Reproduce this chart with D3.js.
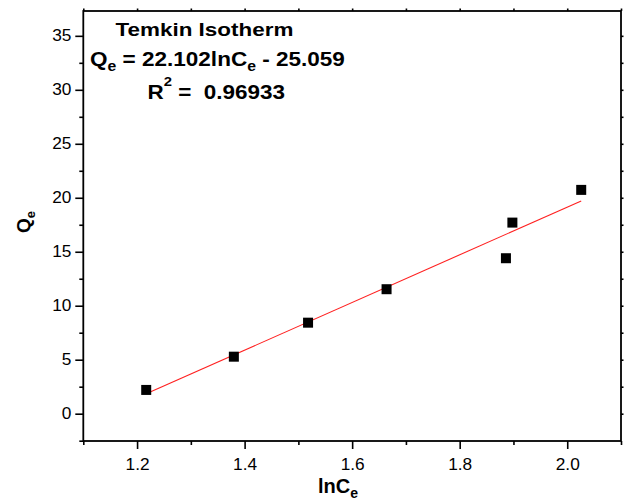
<!DOCTYPE html>
<html>
<head>
<meta charset="utf-8">
<script src="https://cdn.jsdelivr.net/npm/d3@7"></script>
<style>
  body { margin: 0; background: #fff; }
  svg { display: block; font-family: "Liberation Sans", Arial, sans-serif; }
</style>
</head>
<body>
<div id="chart"></div>
<script>
// data
var lnCe = [1.217, 1.380, 1.518, 1.664, 1.886, 1.898, 2.026];
var qe = [2.20, 5.28, 8.43, 11.53, 14.40, 17.70, 20.73];
// fitted line ends (Qe = 22.102 lnCe - 25.059)
var fitX = [1.217, 2.026];
var fitY = [1.84, 19.71];

var xTicks = [1.2, 1.4, 1.6, 1.8, 2.0];
var xMinor = [1.1, 1.3, 1.5, 1.7, 1.9, 2.1];
var yTicks = [0, 5, 10, 15, 20, 25, 30, 35];
var yMinor = [-2.5, 2.5, 7.5, 12.5, 17.5, 22.5, 27.5, 32.5];

var svgWidth = 624;
var svgHeight = 502;

var plot = { left: 83.3, right: 621, top: 11, bottom: 441 };

var svg = d3.select("#chart")
  .append("svg")
  .attr("width", svgWidth)
  .attr("height", svgHeight);

var xScale = d3.scaleLinear().domain([1.1, 2.1]).range([plot.left, plot.right]);
var yScale = d3.scaleLinear().domain([-2.53, 37.3]).range([plot.bottom, plot.top]);

// axes - major ticks with labels, minor ticks without
function styleAxis(g) {
  g.select(".domain").remove();
  g.selectAll("line").attr("stroke", "#000").attr("stroke-width", 1.6);
  g.selectAll("text").attr("fill", "#000").attr("font-size", "16px");
}

svg.append("g")
  .attr("transform", `translate(0, ${plot.bottom})`)
  .call(d3.axisBottom(xScale).tickValues(xTicks).tickSize(8).tickPadding(9.5).tickFormat(d3.format(".1f")))
  .call(styleAxis)
  .selectAll("text").attr("transform", "scale(1.08,1)");

svg.append("g")
  .attr("transform", `translate(0, ${plot.bottom})`)
  .call(d3.axisBottom(xScale).tickValues(xMinor).tickSize(4).tickFormat(""))
  .call(styleAxis);

svg.append("g")
  .attr("transform", `translate(${plot.left}, 0)`)
  .call(d3.axisLeft(yScale).tickValues(yTicks).tickSize(8).tickPadding(3).tickFormat(d3.format("d")))
  .call(styleAxis)
  .selectAll("text").attr("transform", "scale(1.08,1)");

svg.append("g")
  .attr("transform", `translate(${plot.left}, 0)`)
  .call(d3.axisLeft(yScale).tickValues(yMinor).tickSize(4).tickFormat(""))
  .call(styleAxis);

// tiny ticks on top and right
svg.append("g")
  .attr("transform", `translate(0, ${plot.top})`)
  .call(d3.axisTop(xScale).tickValues(xTicks.concat(xMinor)).tickSize(2.5).tickFormat(""))
  .call(styleAxis);

svg.append("g")
  .attr("transform", `translate(${plot.right}, 0)`)
  .call(d3.axisRight(yScale).tickValues(yTicks.concat(yMinor.slice(1))).tickSize(2.5).tickFormat(""))
  .call(styleAxis);

// frame
svg.append("rect")
  .attr("x", plot.left)
  .attr("y", plot.top)
  .attr("width", plot.right - plot.left)
  .attr("height", plot.bottom - plot.top)
  .attr("fill", "none")
  .attr("stroke", "#000")
  .attr("stroke-width", 1.8);

// fit line
svg.append("line")
  .attr("x1", xScale(fitX[0]))
  .attr("y1", yScale(fitY[0]))
  .attr("x2", xScale(fitX[1]))
  .attr("y2", yScale(fitY[1]))
  .attr("stroke", "#ff2020")
  .attr("stroke-width", 1.1);

// points
var sq = 10;
svg.selectAll("rect.pt")
  .data(lnCe)
  .enter()
  .append("rect")
  .attr("class", "pt")
  .attr("x", d => xScale(d) - sq / 2)
  .attr("y", (d, i) => yScale(qe[i]) - sq / 2)
  .attr("width", sq)
  .attr("height", sq)
  .attr("fill", "#000");

// text helper: parts = [[text, "n"|"sub"|"sup"], ...]
function richText(x, y, parts, size, targetWidth) {
  var g = svg.append("g").attr("transform", `translate(${x}, ${y})`);
  var t = g.append("text")
    .attr("font-size", size + "px")
    .attr("font-weight", "bold")
    .attr("fill", "#000")
    .style("white-space", "pre");
  var shift = 0;
  parts.forEach(function(p) {
    var ts = t.append("tspan").text(p[0]);
    var target = 0;
    if (p[1] === "sub") { target = size * 0.25; ts.attr("font-size", (size * 0.7) + "px"); }
    if (p[1] === "sup") { target = -size * 0.6; ts.attr("font-size", (size * 0.66) + "px"); }
    ts.attr("dy", target - shift);
    shift = target;
  });
  if (targetWidth) {
    var w = t.node().getBBox().width;
    t.attr("transform", `scale(${targetWidth / w}, 1)`);
  }
  return t;
}

richText(115.5, 36, [["Temkin Isotherm", "n"]], 19, 178);
richText(90, 65.5, [["Q", "n"], ["e", "sub"], [" = 22.102lnC", "n"], ["e", "sub"], [" - 25.059", "n"]], 20.5, 255);
richText(147.5, 98.5, [["R", "n"], ["2", "sup"], [" =\u00a0 0.96933", "n"]], 20.5, 137.5);

// axis titles
var xt = svg.append("text")
  .attr("x", 318)
  .attr("y", 493.3)
  .attr("font-size", "20px")
  .attr("font-weight", "bold")
  .attr("fill", "#000");
xt.append("tspan").text("lnC");
xt.append("tspan").text("e").attr("font-size", "14px").attr("dy", 5);

var yt = svg.append("g")
  .attr("transform", "translate(29.5, 222) rotate(-90)")
  .append("text")
  .attr("text-anchor", "middle")
  .attr("font-size", "19px")
  .attr("font-weight", "bold")
  .attr("fill", "#000");
yt.append("tspan").text("Q");
yt.append("tspan").text("e").attr("font-size", "13px").attr("dy", 5);
</script>
</body>
</html>
